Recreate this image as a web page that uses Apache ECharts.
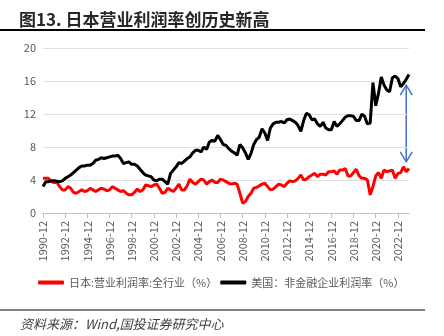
<!DOCTYPE html>
<html><head><meta charset="utf-8">
<script src="https://cdn.jsdelivr.net/npm/echarts@6/dist/echarts.min.js"></script>
<style>html,body{margin:0;padding:0;background:#fff}#c{width:444px;height:336px}</style>
</head><body><div id="c"></div>
<script>
// Quarterly categories 1990-12 .. 2023-12
const categories = [];
(function(){ categories.push('1990-12'); for (let y=1991;y<=2023;y++){ ['03','06','09','12'].forEach(m=>categories.push(y+'-'+m)); } })();

const japanMargin = [
4.2,4.2,4.2,3.8,3.7,3.7,3.2,2.8,2.8,3.2,3.0,2.5,2.4,2.6,2.8,2.6,2.7,3.0,2.8,2.6,
2.8,3.0,2.9,2.7,2.8,3.2,3.0,2.8,2.6,2.7,2.4,2.2,2.2,2.5,2.9,2.6,2.8,3.4,3.3,3.2,
3.4,3.5,3.0,2.4,2.5,3.0,2.8,2.6,3.0,3.5,2.8,2.8,3.3,4.1,3.7,3.5,3.8,4.1,4.0,3.5,
3.8,4.0,3.7,3.7,4.1,4.0,3.8,3.6,3.5,3.6,3.5,2.4,1.2,1.4,2.0,2.4,3.0,3.1,3.3,3.5,
3.6,3.2,2.8,2.9,3.2,3.5,3.4,3.2,3.6,3.9,3.8,3.9,4.2,4.6,4.0,4.1,4.4,4.6,4.8,4.4,
4.7,4.7,4.6,5.0,5.0,5.1,4.7,5.2,5.2,5.4,4.5,4.5,4.9,5.3,4.5,4.2,4.2,4.0,2.2,3.2,
4.5,4.9,4.2,5.2,5.0,5.1,5.2,4.2,4.8,4.9,5.6,5.0,5.4];

const usMargin = [
3.2,3.8,3.8,3.9,3.9,3.85,3.8,3.9,4.2,4.4,4.6,4.9,5.2,5.5,5.7,5.7,5.8,5.8,6.0,6.4,
6.5,6.7,6.6,6.7,6.8,6.9,6.9,7.0,6.6,6.0,6.1,6.2,5.9,5.9,5.7,5.3,4.9,4.6,4.5,4.4,
4.0,3.9,4.1,4.1,3.8,3.5,4.8,5.2,5.6,6.1,6.0,6.3,6.6,6.8,7.3,7.6,7.6,7.4,8.0,7.7,
8.6,8.8,8.7,9.4,8.9,8.3,8.2,7.8,7.5,7.3,7.0,8.3,7.9,7.3,6.5,7.2,8.3,8.9,9.2,10.2,
9.7,8.8,10.3,10.8,11.0,11.0,11.1,10.9,11.3,11.4,11.2,11.0,10.6,9.9,11.2,12.1,11.9,11.3,11.4,10.8,
10.5,11.0,10.3,10.1,10.1,11.1,10.5,10.8,11.2,11.6,11.8,11.8,11.7,11.2,11.2,12.0,11.7,10.8,10.9,15.8,
13.0,14.5,16.5,15.5,14.9,14.7,16.4,16.6,16.3,15.3,15.7,16.2,16.8];

const yTicks = [0,4,8,12,16,20];
const seriesNames = ['日本:营业利润率:全行业（%）','美国：非金融企业利润率（%）'];
const titleText = '图13. 日本营业利润率创历史新高';
const sourceText = '资料来源：Wind,国投证券研究中心';
const gapArrow = {index: 131, top: 15.5, bottom: 6.2};

const FONT = '"Noto Sans CJK SC","Noto Sans",sans-serif';
const chart = echarts.init(document.getElementById('c'), null, {renderer:'canvas'});
const baseGraphics = [
  {id:'title',type:'text',left:19,top:11,style:{text:titleText,fontSize:17,fontWeight:'bold',fill:'#262626',fontFamily:FONT}},
  {id:'topRule',type:'line',shape:{x1:0,y1:30,x2:425,y2:30},style:{stroke:'#000',lineWidth:2}},
  {id:'botRule',type:'line',shape:{x1:0,y1:310,x2:425,y2:310},style:{stroke:'#595959',lineWidth:1.5}},
  {id:'source',type:'text',left:20,top:318,style:{text:sourceText,fontSize:13,fontStyle:'italic',fill:'#404040',fontFamily:FONT}}
];
chart.setOption({
  animation:false,
  backgroundColor:'#fff',
  textStyle:{fontFamily:FONT},
  grid:{left:43,right:35,top:48,bottom:123},
  xAxis:{type:'category',data:categories,boundaryGap:false,
    axisLine:{lineStyle:{color:'#bfbfbf',width:1}},
    axisTick:{show:true,interval:7,length:5,lineStyle:{color:'#bfbfbf'}},
    axisLabel:{interval:7,rotate:90,margin:8,color:'#595959',fontSize:11,fontFamily:FONT},
    splitLine:{show:false}},
  yAxis:{type:'value',min:yTicks[0],max:yTicks[yTicks.length-1],interval:4,
    axisLine:{show:false},axisTick:{show:false},
    axisLabel:{color:'#595959',fontSize:11,margin:7,fontFamily:FONT},
    splitLine:{lineStyle:{color:'#e0e0e0',width:1}}},
  legend:{left:33,top:272,itemWidth:26,itemHeight:4,itemGap:3,icon:'roundRect',
    textStyle:{color:'#595959',fontSize:11,fontFamily:FONT},
    data:seriesNames},
  series:[
    {name:seriesNames[0],type:'line',data:japanMargin,showSymbol:false,symbol:'none',
     lineStyle:{color:'#ff0000',width:3},itemStyle:{color:'#ff0000'}},
    {name:seriesNames[1],type:'line',data:usMargin,showSymbol:false,symbol:'none',
     lineStyle:{color:'#000000',width:3},itemStyle:{color:'#000000'}}
  ],
  graphic:baseGraphics
});
// annotation arrow positioned through the chart's own scales
const pTop = chart.convertToPixel({xAxisIndex:0,yAxisIndex:0},[gapArrow.index,gapArrow.top]);
const pBot = chart.convertToPixel({xAxisIndex:0,yAxisIndex:0},[gapArrow.index,gapArrow.bottom]);
const ax = pTop[0], hw = 6, hh = 10;
chart.setOption({graphic:baseGraphics.concat([
  {id:'arrowShaft',type:'line',shape:{x1:ax,y1:pTop[1],x2:ax,y2:pBot[1]},style:{stroke:'#4472C4',lineWidth:1.5}},
  {id:'arrowTop',type:'polyline',shape:{points:[[ax-hw,pTop[1]+hh],[ax,pTop[1]],[ax+hw,pTop[1]+hh]]},style:{stroke:'#4472C4',lineWidth:1.5,fill:null}},
  {id:'arrowBot',type:'polyline',shape:{points:[[ax-hw,pBot[1]-hh],[ax,pBot[1]],[ax+hw,pBot[1]-hh]]},style:{stroke:'#4472C4',lineWidth:1.5,fill:null}}
])});
</script></body></html>
